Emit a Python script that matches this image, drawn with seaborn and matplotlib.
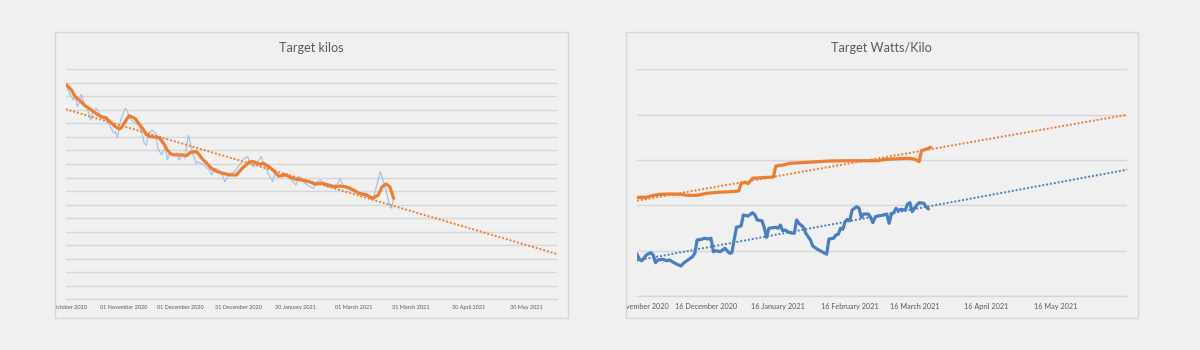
import matplotlib
matplotlib.use('Agg')
import matplotlib.pyplot as plt
from matplotlib.patches import Rectangle
from matplotlib.transforms import Bbox, TransformedBbox
import numpy as np
import pandas as pd
import seaborn as sns

sns.set_theme(style='white')
plt.rcParams['font.family'] = ['Lato', 'DejaVu Sans']

# ---------------- Left chart: Target kilos ----------------
kilo_start = '2020-10-02'
kilo_end = '2021-06-15'
kilo_raw_days = [0, 2, 4, 5, 6, 7, 8, 10, 11, 13, 14, 16, 18, 20, 21, 23, 25, 26, 27, 28,
                 29, 31, 32, 33, 35, 36, 38, 40, 41, 42, 43, 45, 47, 48, 50, 52, 53, 54, 56, 58,
                 59, 61, 62, 64, 66, 68, 69, 72, 75, 76, 78, 81, 83, 85, 88, 90, 93, 95, 96, 98,
                 100, 102, 103, 106, 108, 109, 112, 114, 116, 120, 122, 124, 126, 129, 131, 133, 135, 136, 139, 142,
                 143, 145, 148, 150, 153, 156, 160, 162, 164, 167, 169, 170, 171]
kilo_raw = [85.91, 85.23, 84.73, 85.10, 84.24, 84.49, 85.15, 84.36, 84.24, 83.25, 83.87, 84.12, 83.62, 83.38, 83.25, 82.88, 82.27, 82.39, 81.90, 82.88,
            83.38, 84.12, 83.99, 83.50, 83.13, 83.01, 82.88, 82.14, 81.53, 81.40, 82.14, 82.51, 82.27, 81.16, 80.67, 81.28, 80.30, 80.79, 80.67, 80.79,
            80.30, 80.72, 80.42, 82.14, 80.91, 80.05, 80.17, 79.93, 79.56, 79.19, 79.68, 79.43, 78.69, 79.19, 79.43, 79.80, 80.42, 80.54, 80.05, 79.80,
            80.17, 80.54, 80.05, 79.19, 78.69, 79.43, 79.06, 79.31, 79.06, 78.45, 79.06, 78.69, 78.45, 78.20, 78.69, 78.82, 78.45, 78.32, 78.32, 78.57,
            78.94, 78.32, 78.32, 77.95, 77.83, 77.71, 77.34, 78.32, 79.43, 78.08, 76.84, 76.73, 77.58]
kilo_avg_days = [0, 3, 5, 8, 10, 13, 14, 17, 19, 21, 23, 26, 28, 29, 31, 33, 36, 38, 40, 42,
                 44, 48, 49, 51, 53, 55, 57, 61, 63, 65, 68, 69, 71, 74, 76, 79, 82, 86, 89, 92,
                 96, 98, 101, 103, 106, 109, 111, 115, 117, 120, 123, 127, 130, 134, 137, 140, 143, 146, 150, 153,
                 157, 160, 163, 165, 167, 169, 171]
kilo_avg = [85.91, 85.47, 84.97, 84.60, 84.31, 84.04, 83.92, 83.62, 83.47, 83.42, 83.13, 82.76, 82.59, 82.68, 83.13, 83.57, 83.38, 83.01, 82.64, 82.20,
            82.02, 81.97, 81.90, 81.53, 81.03, 80.72, 80.67, 80.67, 80.61, 80.86, 80.91, 80.79, 80.42, 79.98, 79.68, 79.43, 79.31, 79.19, 79.19, 79.68,
            80.17, 80.17, 79.98, 80.05, 79.80, 79.43, 79.11, 79.19, 79.02, 78.87, 78.82, 78.69, 78.52, 78.57, 78.45, 78.32, 78.37, 78.32, 78.08, 77.83,
            77.71, 77.46, 77.71, 78.32, 78.52, 78.32, 77.46]
kilo_trend_days = [0, 256]
kilo_trend = [84.05, 73.35]
kilo_ylim = [70, 87]
kilo_tick_days = [0, 30, 60, 90, 120, 150, 180, 210, 240]
kilo_tick_labels = ['02 October 2020', '01 November 2020', '01 December 2020', '31 December 2020',
                    '30 January 2021', '01 March 2021', '31 March 2021', '30 April 2021', '30 May 2021']

# ---------------- Right chart: Target Watts/Kilo ----------------
wk_start = '2020-11-16'
wk_end = '2021-06-16'
wk_orange_days = [0, 4, 6, 10, 14, 19, 22, 26, 30, 35, 40, 44, 45, 47, 48, 50, 54, 59, 60, 64,
                  66, 71, 76, 83, 91, 98, 104, 108, 117, 120, 122, 123, 126, 127]
wk_orange = [3.590, 3.590, 3.605, 3.623, 3.627, 3.623, 3.612, 3.612, 3.634, 3.645, 3.652, 3.660, 3.744, 3.755, 3.740, 3.800, 3.806, 3.814, 3.935, 3.949,
             3.965, 3.971, 3.979, 3.990, 3.993, 3.993, 3.993, 4.009, 4.020, 4.012, 3.982, 4.104, 4.130, 4.141]
wk_blue_days = [0, 1, 2, 3, 4, 6, 7, 8, 9, 11, 13, 14, 16, 17, 19, 20, 21, 23, 24, 25,
                26, 28, 29, 31, 32, 33, 34, 36, 38, 39, 40, 41, 42, 43, 45, 46, 48, 50, 51, 52,
                54, 55, 56, 57, 60, 61, 62, 63, 64, 66, 68, 69, 70, 72, 73, 75, 76, 78, 80, 82,
                83, 85, 86, 87, 88, 89, 90, 91, 92, 93, 95, 96, 97, 98, 100, 101, 102, 103, 104, 106,
                108, 109, 110, 111, 112, 113, 114, 116, 117, 118, 119, 121, 122, 124, 125, 126]
wk_blue = [2.966, 2.907, 2.892, 2.918, 2.955, 2.980, 2.955, 2.870, 2.900, 2.907, 2.892, 2.900, 2.870, 2.856, 2.834, 2.863, 2.881, 2.918, 2.936, 2.974,
           3.120, 3.128, 3.139, 3.131, 3.139, 2.991, 3.002, 2.991, 3.029, 3.002, 2.974, 2.980, 3.120, 3.260, 3.274, 3.395, 3.384, 3.421, 3.395, 3.340,
           3.333, 3.260, 3.150, 3.249, 3.260, 3.249, 3.285, 3.222, 3.230, 3.200, 3.194, 3.340, 3.304, 3.260, 3.194, 3.120, 3.054, 3.018, 2.991, 2.963,
           3.131, 3.139, 3.175, 3.183, 3.249, 3.238, 3.322, 3.348, 3.333, 3.450, 3.487, 3.469, 3.370, 3.406, 3.406, 3.370, 3.311, 3.370, 3.384, 3.392,
           3.406, 3.304, 3.406, 3.421, 3.469, 3.443, 3.458, 3.450, 3.517, 3.531, 3.432, 3.506, 3.531, 3.524, 3.487, 3.461]
wk_orange_trend_days = [0, 212]
wk_orange_trend = [3.553, 4.500]
wk_blue_trend_days = [0, 212]
wk_blue_trend = [2.895, 3.895]
wk_ylim = [2.5, 5.0]
wk_tick_days = [0, 30, 61, 92, 120, 151, 181, 212]
wk_tick_labels = ['16 November 2020', '16 December 2020', '16 January 2021', '16 February 2021',
                  '16 March 2021', '16 April 2021', '16 May 2021', '']

ORANGE = '#ED7D31'
BLUE = '#4A7EC0'
LIGHTBLUE = '#A4C3E6'
GRID = '#d6d6d6'
TEXT = '#595959'
BG = '#f0f0f0'


def frame(start, days, values):
    return pd.DataFrame({'date': pd.Timestamp(start) + pd.to_timedelta(days, unit='D'),
                         'value': values})


W, H = 1200, 350
fig = plt.figure(figsize=(12, 3.5), dpi=100, facecolor=BG)


def px_rect(x0, y0, x1, y1):
    return [x0 / W, 1 - y1 / H, (x1 - x0) / W, (y1 - y0) / H]


panels = [(54.5, 31.5, 567.7, 317.5), (625.8, 31.5, 1137.7, 317.7)]
for (x0, y0, x1, y1) in panels:
    r = px_rect(x0, y0, x1, y1)
    fig.patches.append(Rectangle((r[0], r[1]), r[2], r[3], transform=fig.transFigure,
                                 facecolor='none', edgecolor=GRID, lw=1.0))

axL = fig.add_axes(px_rect(65.7, 69.3, 556.7, 299.3))
axR = fig.add_axes(px_rect(637.0, 69.3, 1127.3, 296.3))

for ax in (axL, axR):
    ax.set_facecolor(BG)
    for s in ('left', 'right', 'top'):
        ax.spines[s].set_visible(False)
    ax.spines['bottom'].set_color(GRID)
    ax.spines['bottom'].set_linewidth(1.0)
    ax.yaxis.grid(True, color=GRID, lw=1.0)
    ax.xaxis.grid(False)
    ax.tick_params(axis='y', left=False, labelleft=False)

# left chart
sns.lineplot(data=frame(kilo_start, kilo_raw_days, kilo_raw), x='date', y='value', ax=axL,
             color=LIGHTBLUE, lw=0.9)
sns.lineplot(data=frame(kilo_start, kilo_avg_days, kilo_avg), x='date', y='value', ax=axL,
             color=ORANGE, lw=2.3)
sns.lineplot(data=frame(kilo_start, kilo_trend_days, kilo_trend), x='date', y='value', ax=axL,
             color=ORANGE, lw=1.4, linestyle=(0, (1, 1)))
axL.set_ylim(*kilo_ylim)
axL.set_yticks(np.arange(kilo_ylim[0], kilo_ylim[1] + 1, 1))
axL.set_xlim(pd.Timestamp(kilo_start), pd.Timestamp(kilo_end))
axL.set_xticks(pd.Timestamp(kilo_start) + pd.to_timedelta(kilo_tick_days, unit='D'))
axL.set_xticklabels(kilo_tick_labels)
axL.tick_params(axis='x', length=0, labelsize=4.0, labelcolor=TEXT, pad=4.0)

# right chart
sns.lineplot(data=frame(wk_start, wk_orange_days, wk_orange), x='date', y='value', ax=axR,
             color=ORANGE, lw=2.3)
sns.lineplot(data=frame(wk_start, wk_blue_days, wk_blue), x='date', y='value', ax=axR,
             color=BLUE, lw=2.3)
sns.lineplot(data=frame(wk_start, wk_orange_trend_days, wk_orange_trend), x='date', y='value', ax=axR,
             color=ORANGE, lw=1.4, linestyle=(0, (1, 1)))
sns.lineplot(data=frame(wk_start, wk_blue_trend_days, wk_blue_trend), x='date', y='value', ax=axR,
             color=BLUE, lw=1.4, linestyle=(0, (1, 1)))
axR.set_ylim(*wk_ylim)
axR.set_yticks(np.arange(wk_ylim[0], wk_ylim[1] + 0.01, 0.5))
axR.set_xlim(pd.Timestamp(wk_start), pd.Timestamp(wk_end))
axR.set_xticks(pd.Timestamp(wk_start) + pd.to_timedelta(wk_tick_days, unit='D'))
axR.set_xticklabels(wk_tick_labels)
axR.tick_params(axis='x', direction='in', length=2, width=0.8, color='#bfbfbf',
                labelsize=5.2, labelcolor=TEXT, pad=4.8)

for ax in (axL, axR):
    ax.set_xlabel('')
    ax.set_ylabel('')
    if ax.get_legend():
        ax.get_legend().remove()

fig.text(311.1 / W, 1 - 48.3 / H, 'Target kilos', ha='center', va='center',
         fontsize=9.1, color=TEXT)
fig.text(881.7 / W, 1 - 48.3 / H, 'Target Watts/Kilo', ha='center', va='center',
         fontsize=9.1, color=TEXT)

# clip tick labels to their chart panel, as in the original
for ax, (x0, y0, x1, y1) in zip((axL, axR), panels):
    r = px_rect(x0, y0, x1, y1)
    clip = TransformedBbox(Bbox.from_bounds(*r), fig.transFigure)
    for lab in ax.get_xticklabels():
        lab.set_clip_box(clip)
        lab.set_clip_on(True)

fig.savefig('out.png', dpi=100, facecolor=BG)
